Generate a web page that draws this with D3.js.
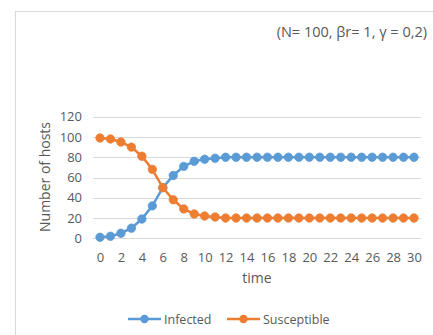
<!DOCTYPE html>
<html><head><meta charset="utf-8">
<script src="https://cdn.jsdelivr.net/npm/d3@7"></script>
<style>
html,body{margin:0;padding:0;background:#fff;}
svg{display:block;font-family:"Open Sans",sans-serif;}
</style></head>
<body><svg id="c" width="433" height="335"></svg>
<script>
const times = d3.range(0, 31);
const infected = [1,2,5,10,19,32,50,62,71,76,78,79,80,80,80,80,80,80,80,80,80,80,80,80,80,80,80,80,80,80,80];
const susceptible = [99,98,95,90,81,68,50,38,29,24,22,21,20,20,20,20,20,20,20,20,20,20,20,20,20,20,20,20,20,20,20];
const yTicks = [0,20,40,60,80,100,120];
const xTicks = d3.range(0, 31, 2);
const seriesNames = ["Infected","Susceptible"];
const colors = ["#5B9BD5","#ED7D31"];
const titleText = "(N= 100, βr= 1, γ = 0,2)";

const svg = d3.select("#c");
svg.append("rect").attr("x",15.5).attr("y",11.5).attr("width",440).attr("height",340)
  .attr("fill","#fff").attr("stroke","#d9d9d9");

const x = d3.scaleLinear().domain([0,30]).range([100,414]);
const y = d3.scaleLinear().domain([0,120]).range([238.3,116.7]);

svg.append("g").selectAll("line").data(yTicks).join("line")
  .attr("x1",93).attr("x2",421)
  .attr("y1",d=>Math.round(y(d))+0.5).attr("y2",d=>Math.round(y(d))+0.5)
  .attr("stroke","#d9d9d9").attr("stroke-width",1);

const yAxis = d3.axisLeft(y).tickValues(yTicks).tickSize(0).tickPadding(0);
const gy = svg.append("g").attr("transform","translate(82,0)").call(yAxis);
gy.select(".domain").remove();
gy.selectAll("text").attr("fill","#595959").style("font-size","13px").style("font-family","Open Sans");

const xAxis = d3.axisBottom(x).tickValues(xTicks).tickSize(0).tickPadding(0);
const gx = svg.append("g").attr("transform","translate(0,252.5)").call(xAxis);
gx.select(".domain").remove();
gx.selectAll("text").attr("fill","#595959").style("font-size","13px").style("font-family","Open Sans");

svg.append("text").attr("transform","translate(50,177) rotate(-90)").attr("text-anchor","middle")
  .attr("fill","#595959").style("font-size","14px").text("Number of hosts");
svg.append("text").attr("x",257).attr("y",283).attr("text-anchor","middle")
  .attr("fill","#595959").style("font-size","14px").text("time");

svg.append("text").attr("x",427).attr("y",37).attr("text-anchor","end")
  .attr("fill","#595959").style("font-size","14.5px").text(titleText);

const data = [infected, susceptible];
const line = d3.line().x((d,i)=>x(times[i])).y(d=>y(d));
data.forEach((s,k)=>{
  const g = svg.append("g");
  g.append("path").datum(s).attr("d",line).attr("fill","none")
    .attr("stroke",colors[k]).attr("stroke-width",2.5);
  g.selectAll("circle").data(s).join("circle")
    .attr("cx",(d,i)=>x(times[i])).attr("cy",d=>y(d)).attr("r",4.2)
    .attr("fill",colors[k]).attr("stroke",colors[k]).attr("stroke-width",0.8);
});

const legX = [128,227];
seriesNames.forEach((n,k)=>{
  const g = svg.append("g");
  g.append("line").attr("x1",legX[k]).attr("x2",legX[k]+33).attr("y1",319).attr("y2",319)
    .attr("stroke",colors[k]).attr("stroke-width",2.5);
  g.append("circle").attr("cx",legX[k]+16.5).attr("cy",319).attr("r",4.2).attr("fill",colors[k]);
  g.append("text").attr("x",legX[k]+36).attr("y",323.5).attr("fill","#595959")
    .style("font-size","12.5px").text(n);
});
</script></body></html>
